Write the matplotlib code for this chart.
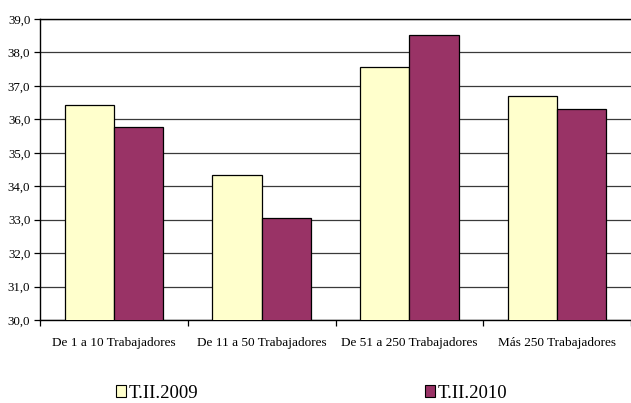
import matplotlib
matplotlib.use("Agg")
import matplotlib.pyplot as plt
import numpy as np
from matplotlib.patches import Patch

categories = ["De 1 a 10 Trabajadores", "De 11 a 50 Trabajadores",
              "De 51 a 250 Trabajadores", "Más 250 Trabajadores"]
series_names = ["T.II.2009", "T.II.2010"]
values_2009 = [36.42, 34.35, 37.56, 36.69]
values_2010 = [35.78, 33.04, 38.53, 36.31]
y_ticks = [30.0, 31.0, 32.0, 33.0, 34.0, 35.0, 36.0, 37.0, 38.0, 39.0]
y_tick_labels = ["30,0", "31,0", "32,0", "33,0", "34,0", "35,0", "36,0", "37,0", "38,0", "39,0"]

col_2009 = "#FFFFCC"
col_2010 = "#993366"

plt.rcParams['font.family'] = ['Liberation Serif', 'DejaVu Serif']

fig = plt.figure(figsize=(6.31, 4.03), dpi=100)
ax = fig.add_axes([40/631, 1-320/403, 1-40/631, (320-19)/403])

x = np.arange(len(categories))
w = 1/3
ax.bar(x - w/2, values_2009, width=w, color=col_2009, edgecolor="black", linewidth=0.9, zorder=3)
ax.bar(x + w/2, values_2010, width=w, color=col_2010, edgecolor="black", linewidth=0.9, zorder=3)

ax.set_ylim(30, 39)
ax.set_xlim(-0.5, len(categories) - 0.5)
ax.set_yticks(y_ticks)
ax.set_yticklabels(y_tick_labels, fontsize=9.3)
ax.yaxis.grid(True, color="#3a3a3a", linewidth=0.9, zorder=0)
ax.set_axisbelow(True)

ax.set_xticks(np.arange(-0.5, len(categories) + 0.5, 1.0))
ax.set_xticklabels([])
ax.set_xticks(x, minor=True)
ax.set_xticklabels(categories, minor=True, fontsize=9.5)
ax.tick_params(axis='x', which='minor', length=0, pad=12)
ax.tick_params(axis='x', which='major', length=4, width=0.9, direction='out')
ax.tick_params(axis='y', length=4, width=0.9, direction='out', pad=3)

for s in ['left', 'bottom', 'top']:
    ax.spines[s].set_color('black')
    ax.spines[s].set_linewidth(1.0)
ax.spines['right'].set_visible(False)

handles = [Patch(facecolor=col_2009, edgecolor='black', linewidth=0.8),
           Patch(facecolor=col_2010, edgecolor='black', linewidth=0.8)]
fig.legend(handles, series_names, loc='center left', bbox_to_anchor=(116/631, 1-393/403),
           ncol=2, frameon=False, fontsize=13.5, handlelength=0.55, handleheight=0.55,
           handletextpad=0.12, columnspacing=12.1, borderpad=0, borderaxespad=0)

fig.savefig("out.png", dpi=100)
